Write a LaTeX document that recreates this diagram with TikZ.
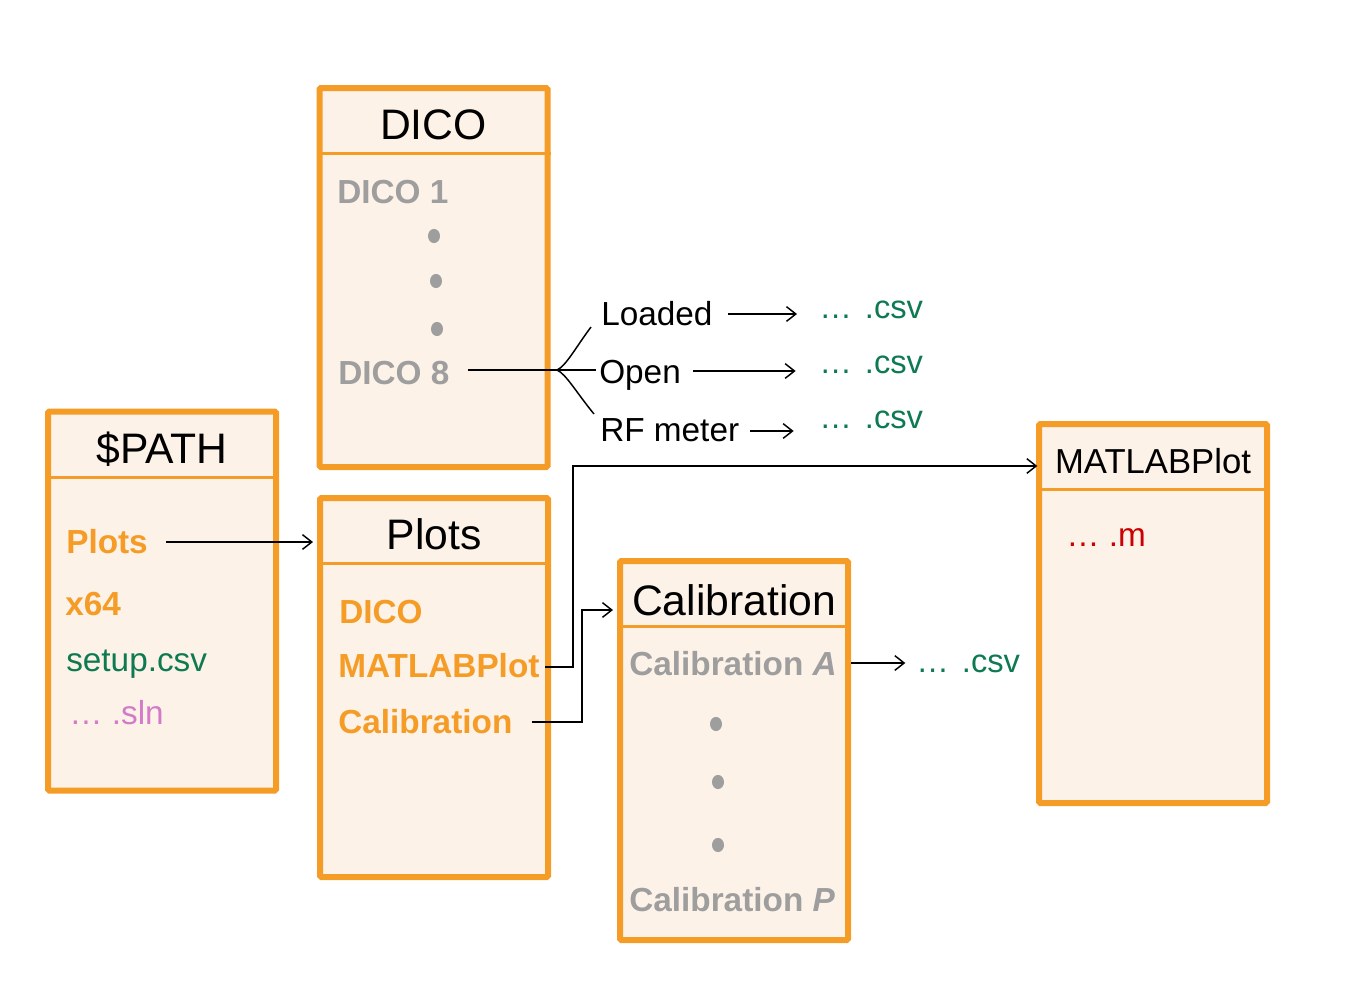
\documentclass[tikz,border=0pt]{standalone}
\usepackage{fontspec}
\setmainfont{Liberation Sans}
\usetikzlibrary{arrows.meta}
\definecolor{boxorange}{HTML}{F49C26}
\definecolor{boxfill}{HTML}{FDF2E8}
\definecolor{itemgray}{HTML}{9E9E9E}
\definecolor{filegreen}{HTML}{0E7A52}
\definecolor{filepink}{HTML}{D37BC8}
\definecolor{filered}{HTML}{CC0000}
\begin{document}
\begin{tikzpicture}[x=0.75pt,y=-0.75pt,
  box/.style={draw=boxorange, fill=boxfill, line width=4.5pt, minimum width=171pt, minimum height=284.25pt, inner sep=0pt, rounded corners=1pt},
  hdr/.style={draw=boxorange, line width=2.25pt},
  title/.style={anchor=base, inner sep=0pt, font=\fontsize{32}{36}\selectfont},
  item/.style={anchor=base west, inner sep=0pt, font=\fontsize{25}{30}\selectfont},
  bitem/.style={anchor=base west, inner sep=0pt, font=\fontsize{25}{30}\selectfont\bfseries},
  csvitem/.style={anchor=base west, inner sep=0pt, text=filegreen, font=\fontsize{24.5}{28}\selectfont},
  conn/.style={draw=black, line width=1.1pt},
  arr/.style={conn, -{Straight Barb[length=7pt,width=11pt,line width=1.1pt]}},
  dot/.style={fill=itemgray}
]
\useasboundingbox (0,0) rectangle (1360,1000);

% boxes
\node[box] (dico) at (433.5,277.5) {};
\node[box] (path) at (162,601) {};
\node[box] (plots) at (434,687.5) {};
\node[box] (calib) at (734,750.5) {};
\node[box] (mat) at (1153,613.5) {};
\foreach \b in {dico,path,plots,calib,mat}{
  \draw[hdr] ([yshift=-51.5pt]\b.north west) -- ([yshift=-51.5pt]\b.north east);
}

% titles
\node[title] (dicot) at (433.5,139) {DICO};
\node[title] (patht) at (162,463) {\$PATH};
\node[title] (plotst) at (434,549) {Plots};
\node[title] (calibt) at (734,615) {Calibration};
\node[title, font=\fontsize{26}{30}\selectfont] (matt) at (1153,473) {MATLABPlot};

% DICO box
\node[bitem, text=itemgray] (dico1) at (337,203) {DICO 1};
\node[bitem, text=itemgray] (dico8) at (338,384) {DICO 8};
\fill[dot] (434,236) ellipse [x radius=4.5pt, y radius=5.3pt];
\fill[dot] (436,281) ellipse [x radius=4.5pt, y radius=5.3pt];
\fill[dot] (437,329) ellipse [x radius=4.5pt, y radius=5.3pt];

% branches
\node[item] (loaded) at (601,325) {Loaded};
\node[item] (open) at (599,383) {Open};
\node[item] (rf) at (600,441) {RF meter};
\node[csvitem] (csv1) at (819,318) {…\hspace{0.4em}.csv};
\node[csvitem] (csv2) at (819,373) {…\hspace{0.4em}.csv};
\node[csvitem] (csv3) at (819,428) {…\hspace{0.4em}.csv};

\coordinate (jn) at (557,370);
\coordinate (upend) at (591,327);
\coordinate (lowend) at (594,414);
\draw[conn] ([xshift=14pt]dico8.east |- jn) -- (jn);
\draw[conn] (jn) -- ([xshift=-2pt]open.west |- jn);
\draw[conn] (jn) .. controls (566,366) and (576,347) .. (upend);
\draw[conn] (jn) .. controls (566,374) and (576,392) .. (lowend);

\coordinate (a1) at (728,314);
\coordinate (a2) at (693,371);
\coordinate (a3) at (750,431);
\draw[arr] (a1) -- ([xshift=-16.5pt]a1 -| csv1.west);
\draw[arr] (a2) -- ([xshift=-17.5pt]a2 -| csv2.west);
\draw[arr] (a3) -- ([xshift=-19pt]a3 -| csv3.west);

% $PATH box
\node[bitem, text=boxorange] (pathplots) at (66,553) {Plots};
\node[bitem, text=boxorange] (x64) at (65,615) {x64};
\node[item, text=filegreen] (setup) at (66,671) {setup.csv};
\node[item, text=filepink] (sln) at (69,724) {… .sln};
\coordinate (p0) at (166,542);
\draw[arr] (p0) -- ([xshift=-3pt]p0 -| plots.west);

% Plots box
\node[bitem, text=boxorange] (plotsdico) at (339,623) {DICO};
\node[bitem, text=boxorange] (plotsmat) at (338,677) {MATLABPlot};
\node[bitem, text=boxorange] (plotscal) at (338,733) {Calibration};

\coordinate (m0) at (545,667);
\coordinate (m1) at (573,466);
\draw[arr] (m0) -| (m1) -- ([xshift=1pt]m1 -| mat.west);
\coordinate (c0) at (532,722);
\coordinate (c1) at (582,610);
\draw[arr] (c0) -| (c1) -- ([xshift=-3pt]c1 -| calib.west);

% Calibration box
\node[bitem, text=itemgray] (calA) at (629,675) {Calibration \textit{A}};
\node[bitem, text=itemgray] (calP) at (629,911) {Calibration \textit{P}};
\fill[dot] (716,724) ellipse [x radius=4.5pt, y radius=5.3pt];
\fill[dot] (718,782) ellipse [x radius=4.5pt, y radius=5.3pt];
\fill[dot] (718,845) ellipse [x radius=4.5pt, y radius=5.3pt];
\node[csvitem] (csv4) at (916,672) {…\hspace{0.4em}.csv};
\coordinate (k0) at (848,663);
\draw[arr] (calib.east |- k0) -- ([xshift=-8pt]k0 -| csv4.west);

% MATLABPlot box
\node[item, text=filered] (mfile) at (1066,546) {… .m};
\end{tikzpicture}
\end{document}
